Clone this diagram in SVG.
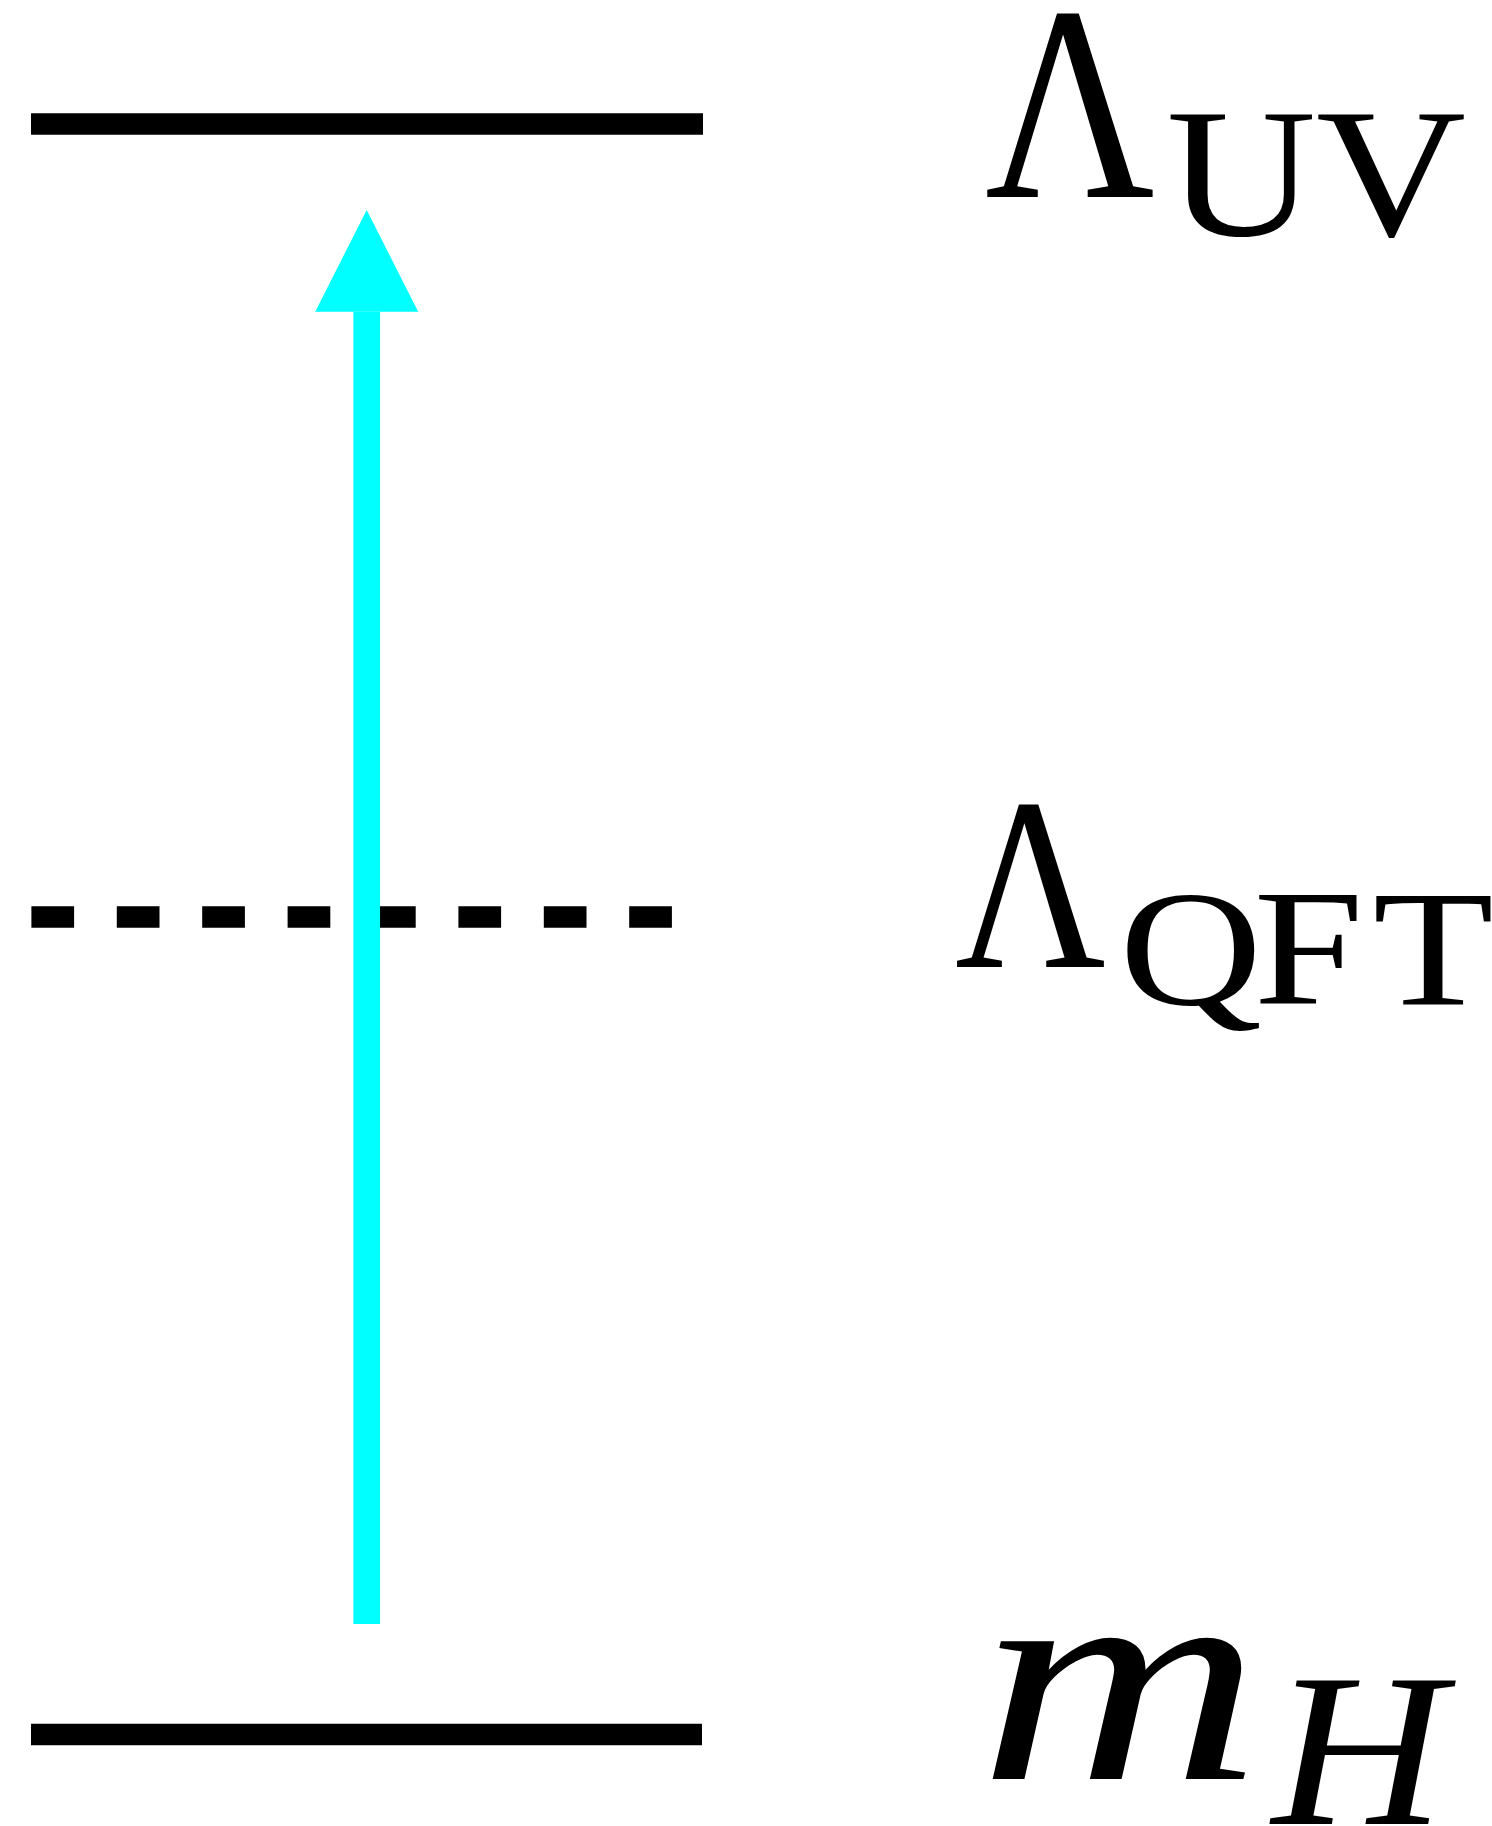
<svg xmlns="http://www.w3.org/2000/svg" width="1492" height="1826" viewBox="0 0 1492 1826">
<style>
.lvl{stroke:#000;stroke-width:21.5;stroke-linecap:butt;fill:none}
.dash{stroke-dasharray:42.7 42.7}
.arrow{stroke:#00FFFF;stroke-width:26.7;stroke-linecap:butt;fill:none}
text{fill:#000;font-family:"Liberation Serif","Times New Roman",serif}
.it{font-style:italic}
</style>
<defs>
<marker id="ah" markerUnits="userSpaceOnUse" orient="auto" refX="0" refY="0" markerWidth="120" markerHeight="120" viewBox="0 -60 120 120" overflow="visible">
<path d="M0,-51.5 L101.7,0 L0,51.5 Z" fill="#00FFFF"/>
</marker>
</defs>
<rect width="1492" height="1826" fill="#fff"/>
<g id="level-uv">
<line class="lvl" x1="31" y1="124" x2="703" y2="124"/>
<text x="985" y="197" font-size="278" textLength="170" lengthAdjust="spacingAndGlyphs">Λ</text>
<text font-size="184" transform="translate(0,235) scale(1.13,1)"><tspan x="1032" y="0">U</tspan><tspan x="1164.5" y="0">V</tspan></text>
</g>
<g id="level-qft">
<line class="lvl dash" x1="31.4" y1="917" x2="672" y2="917"/>
<text x="955" y="967" font-size="246" textLength="151" lengthAdjust="spacingAndGlyphs">Λ</text>
<text font-size="165" transform="translate(0,1004) scale(1.2,1)"><tspan x="932.7" y="0">Q</tspan><tspan x="1044.5" y="0">F</tspan><tspan x="1143.9" y="0">T</tspan></text>
</g>
<g id="level-mh">
<line class="lvl" x1="31" y1="1734.5" x2="702" y2="1734.5"/>
<text class="it" x="978.5" y="1779" font-size="300" textLength="283" lengthAdjust="spacingAndGlyphs">m</text>
<text class="it" x="1272" y="1824" font-size="219" textLength="173" lengthAdjust="spacingAndGlyphs">H</text>
</g>
<g id="connectors">
<line class="arrow" x1="366.7" y1="1624" x2="366.7" y2="311.7" marker-end="url(#ah)"/>
</g>
</svg>
